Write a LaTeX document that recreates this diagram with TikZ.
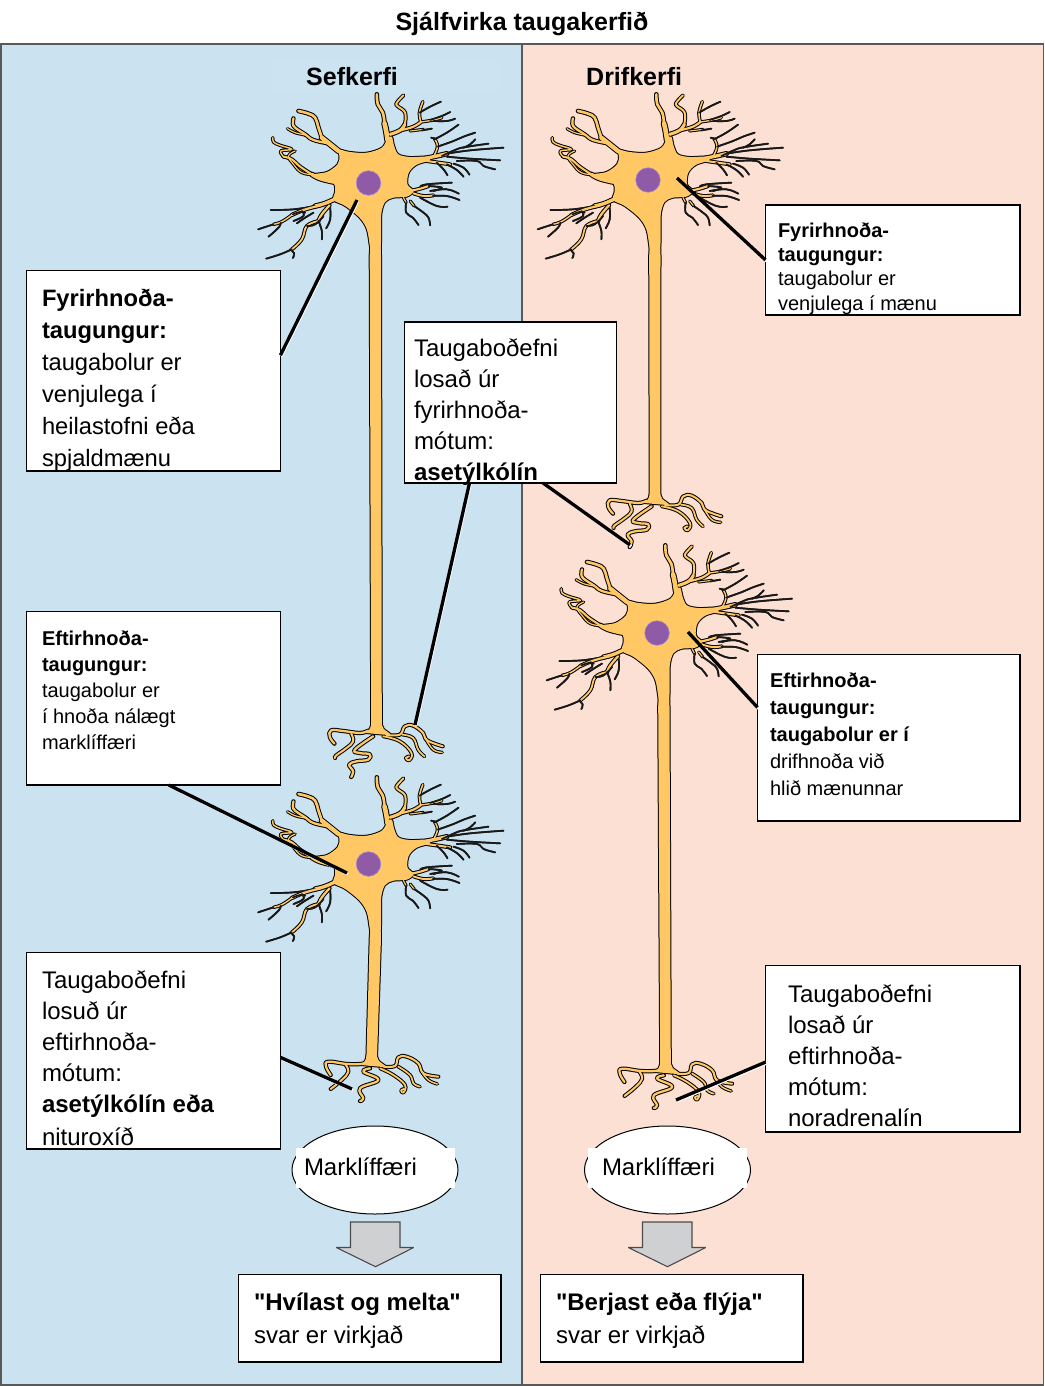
\documentclass[tikz,border=0pt]{standalone}
\usepackage{fontspec}
\setmainfont{Liberation Sans}[Ligatures=TeXOff]
\definecolor{blu}{HTML}{CBE2F0}
\definecolor{blutx}{HTML}{CCE4F2}
\definecolor{pea}{HTML}{FCE0D3}
\definecolor{orng}{HTML}{FFC864}
\definecolor{purp}{HTML}{8F5BA6}
\definecolor{grayarrow}{HTML}{CFD0D2}
\colorlet{nc}{black}
\def\ext{2pt}
\newcommand\fsz[2]{\fontsize{#1}{#2}\selectfont}
\newcommand\br[2]{\draw[nc,line width=1.2*#1pt+\ext,line cap=round,line join=round] plot[smooth,tension=.7] coordinates {#2};}
\newcommand\tp[1]{\draw[black!90,line width=1.7pt,line cap=round,line join=round] plot[smooth,tension=.7] coordinates {#1};}
\newcommand\headpaths{%
 % upper branch
 \br{3.8}{(412,272)(408,245)(403,222)}
 \br{2.2}{(403,222)(398,190)(383,165)(380,135)}
 \br{2.6}{(420,255)(450,243)(464,225)}
 \br{1.6}{(464,225)(465,190)(442,170)(440,160)(460,138)}
 \br{1.8}{(455,242)(490,232)(512,218)}
 \br{1.3}{(512,218)(508,190)(518,157)}
 \br{1.1}{(512,218)(550,212)(575,205)}
 \br{0.9}{(480,245)(520,240)}
 \tp{(508,190)(540,172)(572,157)}
 \tp{(540,212)(575,200)(600,188)}
 \tp{(550,215)(590,215)(615,208)}
 \tp{(515,243)(545,238)}
 % right branch
 \br{2.8}{(525,327)(560,320)(590,313)}
 \br{1.2}{(550,322)(562,292)(553,268)}
 \tp{(553,268)(543,265)}
 \tp{(553,270)(590,250)(625,226)}
 \tp{(562,292)(610,275)(640,262)(675,250)}
 \tp{(575,320)(630,296)(665,290)(715,283)}
 \tp{(590,313)(660,303)(760,295)}
 \tp{(590,322)(660,328)(750,333)}
 \tp{(640,295)(660,285)(675,270)}
 \br{1.7}{(530,335)(565,340)(600,345)}
 \tp{(560,340)(580,360)(592,378)}
 \tp{(590,345)(620,362)(640,382)}
 \tp{(610,343)(640,355)(658,376)}
 \tp{(620,335)(680,335)(700,350)(735,360)}
 % lower right
 \br{1.8}{(480,425)(510,418)(535,410)}
 \br{1.6}{(490,432)(520,440)(550,438)}
 \tp{(510,412)(530,405)(605,400)}
 \tp{(535,410)(575,415)(550,425)}
 \tp{(540,425)(590,420)(626,433)}
 \tp{(548,440)(590,440)(628,452)}
 \tp{(510,445)(560,470)(592,472)}
 \br{1.0}{(460,445)(468,460)}
 \tp{(468,460)(468,490)(488,505)(505,527)}
 \br{1.0}{(480,455)(492,470)}
 \tp{(492,470)(520,490)(535,505)(540,528)}
 % lower left
 \br{2.8}{(258,447)(225,462)(195,470)}
 \tp{(195,470)(130,480)(62,482)}
 \br{1.8}{(215,467)(160,482)(125,497)}
 \br{1.2}{(125,497)(95,517)(70,525)}
 \tp{(70,525)(45,533)(24,540)}
 \tp{(92,520)(85,535)(55,562)}
 \tp{(128,495)(150,488)(165,490)}
 \tp{(155,485)(160,500)(130,515)}
 \tp{(190,490)(165,505)(140,522)}
 \br{1.9}{(238,468)(215,495)(205,515)}
 \br{1.5}{(205,515)(170,530)(155,570)(125,600)}
 \tp{(125,600)(90,615)(48,628)}
 \tp{(120,600)(132,612)(128,626)}
 \tp{(205,515)(215,545)(215,570)}
 \tp{(240,475)(240,510)(228,537)}
 \tp{(170,530)(195,525)(220,500)}
 % left middle
 \br{3.0}{(250,398)(210,388)(185,375)}
 \br{1.7}{(185,375)(150,352)(125,330)(100,322)}
 \br{1.2}{(100,322)(92,305)(125,300)(90,288)(70,278)(68,265)}
 \br{1.0}{(190,376)(155,370)(130,345)(115,320)(135,305)}
 % upper left
 \br{3.6}{(265,305)(240,285)(215,265)}
 \br{2.2}{(215,265)(205,235)(195,205)(175,193)(145,185)}
 \br{1.9}{(240,283)(190,272)(165,255)(135,235)(128,222)(130,207)}
 \br{1.0}{(165,257)(135,250)(112,238)}
 % body
 \path[bodyline,fill=nc] plot[smooth cycle,tension=.55] coordinates {
  (262,300)(300,308)(350,310)(395,295)(412,268)(425,262)(432,290)(445,315)(480,323)(530,322)(540,333)(500,346)(476,370)(472,405)(490,425)(470,442)(430,445)(405,458)(394,490)(393,530)(392,590)(385,630)(366,630)(359,590)(350,540)(328,505)(285,470)(250,452)(255,425)(248,400)(200,388)(190,375)(230,368)(262,345)(268,320)};
}
\newcommand\termflare{\path[bodyline,fill=nc] plot[smooth cycle,tension=.5] coordinates {(-10,-45)(-16,-25)(-22,-10)(-40,-2)(0,3)(42,5)(22,-12)(16,-25)(10,-45)};}
\newcommand\termA{%
 \br{1.9}{(-25,-7)(-50,0)(-100,-6)(-136,-8)(-140,12)(-126,32)}
 \br{1.7}{(-76,2)(-70,25)(-90,45)(-122,68)(-124,75)}
 \br{1.9}{(-10,10)(-65,50)(-50,60)(-20,64)(-25,80)(-60,85)(-82,95)(-70,115)(-76,132)}
 \br{1.5}{(20,10)(70,25)(105,60)(98,82)(88,75)(98,70)}
 \br{1.7}{(30,6)(70,5)(85,-20)(110,-22)(140,0)(152,22)(199,40)}
 \br{1.2}{(148,18)(170,50)(197,58)}
 \br{1.4}{(78,5)(110,15)(125,50)(144,70)}
 \termflare
}
\newcommand\termB{%
 \br{1.9}{(-30,-3)(-75,-3)(-130,-10)(-137,5)(-123,30)}
 \br{1.7}{(-80,-3)(-70,20)(-90,45)(-123,72)}
 \br{1.9}{(-5,10)(-25,20)(20,45)(-35,70)(-25,100)(-35,108)}
 \br{1.5}{(25,10)(65,30)(100,60)(95,83)(88,76)(97,72)}
 \br{1.7}{(35,5)(70,3)(80,-23)(105,-25)(140,-5)(155,25)(200,35)}
 \br{1.2}{(150,20)(170,45)(197,57)}
 \br{1.4}{(80,5)(115,30)(125,55)(145,65)}
 \termflare
}
\newcommand\neuronpass[5]{%
 \begin{scope}[shift={(#1,#2)}]\begin{scope}[x=.3333pt,y=-.3333pt,shift={(-355,-401)}]\headpaths\end{scope}\end{scope}
 \path[bodyline,fill=nc] (#1+2,#2+60) -- (#1+1.2,#2+72) -- (#3-5.3,#4-7) -- (#3+5.3,#4-7) -- (#1+12.5,#2+72) -- (#1+12,#2+60) -- cycle;
 \begin{scope}[shift={(#3,#4)}]\begin{scope}[x=.3333pt,y=-.3333pt]#5\end{scope}\end{scope}
}
% head x, head y, terminal x, terminal y, terminal, nucleus y
\newcommand\neuron[6]{%
 \begingroup\colorlet{nc}{black}\def\ext{2pt}\tikzset{bodyline/.style={draw=black,line width=2pt,line join=round}}\neuronpass{#1}{#2}{#3}{#4}{#5}\endgroup
 \begingroup\colorlet{nc}{orng}\def\ext{0pt}\tikzset{bodyline/.style={draw=none}}\neuronpass{#1}{#2}{#3}{#4}{#5}\endgroup
 \fill[purp] (#1,#6) circle (12.3);
 \draw[purp!70!blue!60!white,line width=.5pt] (#1,#6) circle (12.3);
}
\tikzset{
 panel/.style={draw=black!65,line width=1.5pt},
 box/.style={draw=black,fill=white,line width=1.15pt,inner sep=0,outer sep=0,anchor=north west},
 heavybox/.style={box,line width=1.5pt},
 txt/.style={inner sep=0,outer sep=0,anchor=north west,align=left},
 ptr/.style={black,line width=3.3pt},
 ptrw/.style={white,line width=2.6pt},
 organ/.style={draw=black,fill=white,line width=1pt,ellipse,minimum width=166pt,minimum height=88pt,inner sep=0},
 organlab/.style={fill=white,inner sep=0,outer sep=0,minimum width=159pt,minimum height=40pt,text width=147pt,align=left,font=\fsz{24}{30}},
 bigarrow/.style={draw=black!70,fill=grayarrow,line width=1.1pt,miter limit=3},
}
\newcommand\ptrline[2]{\draw[ptrw] ([shift={(1,1.2)}]#1) -- ([shift={(1,1.2)}]#2); \draw[ptr] (#1) -- (#2);}
\newcommand\bbox[6][box]{\node[#1,minimum width=#5pt-#3pt,minimum height=#6pt-#4pt] (#2) at (#3,#4) {};}
\usetikzlibrary{shapes.geometric}
\begin{document}
\begin{tikzpicture}[x=1pt,y=-1pt]
\useasboundingbox (0,0) rectangle (1044,1386);
\fill[white] (0,0) rectangle (1044,1386);
\node[anchor=base,inner sep=0,font=\fsz{25}{28}\bfseries] (title) at (522,30.5) {Sjálfvirka taugakerfið};
\draw[panel,fill=blu] (.75,44) rectangle (522,1385);
\draw[panel,fill=pea] (522,44) rectangle (1043.3,1385);
\fill[blutx] (272,60) rectangle (498,94);
\node[anchor=base west,inner sep=0,font=\fsz{25}{28}\bfseries] (sef) at (306,86) {Sefkerfi};
\node[anchor=base west,inner sep=0,font=\fsz{25}{28}\bfseries] (drif) at (586,86) {Drifkerfi};
% neurons
\neuron{368.5}{183}{376.5}{733}{\termA}{183}
\neuron{368.5}{866}{371.7}{1065}{\termB}{864}
\neuron{648}{183}{655}{503}{\termA}{180}
\neuron{657}{634}{665.5}{1072}{\termB}{633}
% free ends of the pointers
\coordinate (c1) at (357,200);
\coordinate (c2) at (415,725);
\coordinate (c3) at (630,545);
\coordinate (c4) at (677,178);
\coordinate (c5) at (347,873);
\coordinate (c6) at (688,632);
\coordinate (c7) at (352,1089);
\coordinate (c8) at (676,1100);
% boxes
\bbox{b1}{26.5}{270.5}{280.5}{471}
\bbox{b2}{404.5}{322}{616.5}{483}
\bbox{b3}{765.5}{205}{1020}{315}
\bbox{b4}{26.5}{611.5}{280.5}{785}
\bbox{b5}{757.5}{654.5}{1020}{821}
\bbox{b6}{26.5}{952.5}{280.5}{1149}
\bbox{b7}{765.5}{965.5}{1020}{1132}
\bbox[heavybox]{b8}{238.5}{1274.5}{501}{1362}
\bbox[heavybox]{b9}{540.5}{1274.5}{803}{1362}
\node[txt,font=\fsz{23.7}{32}] (t1) at (42,289) {\textbf{Fyrirhnoða-}\\\textbf{taugungur:}\\taugabolur er\\venjulega í\\heilastofni eða\\spjaldmænu};
\node[txt,font=\fsz{24}{31}] (t2) at (414,339) {Taugaboðefni\\losað úr\\fyrirhnoða-\\mótum:\\\textbf{asetýlkólín}};
\node[txt,font=\fsz{20}{24.3}] (t3) at (778,222.5) {\textbf{Fyrirhnoða-}\\\textbf{taugungur:}\\taugabolur er\\venjulega í mænu};
\node[txt,font=\fsz{20}{26}] (t4) at (42,631) {\textbf{Eftirhnoða-}\\\textbf{taugungur:}\\taugabolur er\\í hnoða nálægt\\marklíffæri};
\node[txt,font=\fsz{20}{27}] (t5) at (770,673) {\textbf{Eftirhnoða-}\\\textbf{taugungur:}\\\textbf{taugabolur er í}\\drifhnoða við\\hlið mænunnar};
\node[txt,font=\fsz{24}{31}] (t6) at (42,971) {Taugaboðefni\\losuð úr\\eftirhnoða-\\mótum:\\\textbf{asetýlkólín eða}\\[2pt]nituroxíð};
\node[txt,font=\fsz{24}{31}] (t7) at (788,985) {Taugaboðefni\\losað úr\\eftirhnoða-\\mótum:\\noradrenalín};
\node[txt,font=\fsz{24}{33}] (t8) at (254,1293) {\textbf{"Hvílast og melta"}\\svar er virkjað};
\node[txt,font=\fsz{24}{33}] (t9) at (556,1293) {\textbf{"Berjast eða flýja"}\\svar er virkjað};
% target organs
\node[organ] (o1) at (375,1170) {};
\node[organlab,anchor=west] (ol1) at (296,1168) {\hspace*{2pt}\raisebox{3pt}{Marklíffæri}};
\node[organ] (o2) at (667.5,1170) {};
\node[organlab,anchor=west] (ol2) at (588,1168) {\hspace*{8pt}\raisebox{3pt}{Marklíffæri}};
% block arrows
\draw[bigarrow] (350.5,1222) -- (400,1222) -- (400,1247.5) -- (413.7,1247.5) -- (375.5,1266.7) -- (336.3,1247.5) -- (350.5,1247.5) -- cycle;
\draw[bigarrow] (642.5,1222) -- (692,1222) -- (692,1247.5) -- (705.7,1247.5) -- (667.5,1266.7) -- (628.3,1247.5) -- (642.5,1247.5) -- cycle;
% pointers
\ptrline{b1.7.18}{c1}
\ptrline{b2.243}{c2}
\ptrline{b2.292.9}{c3}
\ptrline{b3.west}{c4}
\ptrline{b4.280.5}{c5}
\ptrline{b5.167.1}{c6}
\ptrline{b6.-3.6}{c7}
\ptrline{b7.186.3}{c8}
\end{tikzpicture}
\end{document}
